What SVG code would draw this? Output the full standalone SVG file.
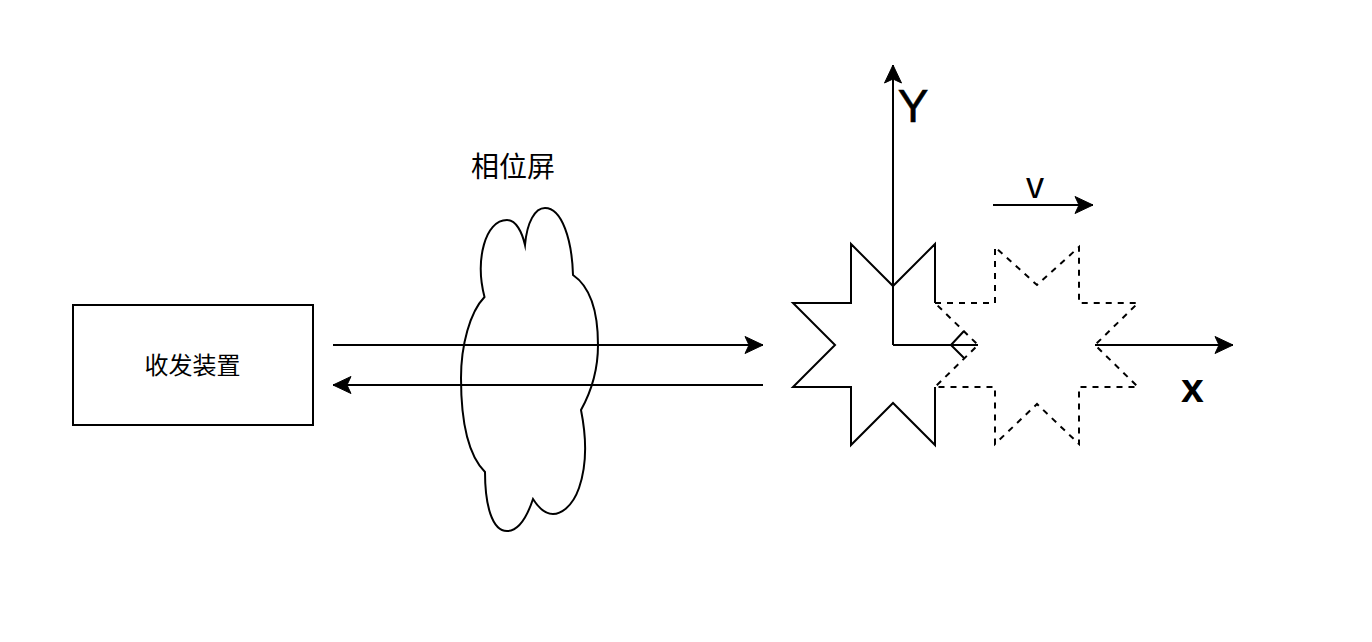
<svg xmlns="http://www.w3.org/2000/svg" width="1372" height="642" viewBox="0 0 1372 642">
<style>
.s{fill:none;stroke:#000;stroke-width:2;stroke-miterlimit:10}
.d{stroke-dasharray:6 6}
.t{font-family:"Liberation Sans","Noto Sans CJK SC",sans-serif;fill:#000;text-anchor:middle}
</style>
<defs>
<marker id="a" markerUnits="userSpaceOnUse" viewBox="0 0 20 20" refX="19" refY="10" markerWidth="20" markerHeight="20" orient="auto"><path d="M1 1.5 L19 10 L1 18.5 L5 10 Z" fill="#000" stroke="#000"/></marker>
</defs>
<rect width="1372" height="642" fill="#fff"/>
<g id="device"><rect class="s" x="73" y="305" width="240" height="120"/><text class="t" x="192.500" y="374" font-size="24">收发装置</text></g>
<g id="phase-screen"><path class="s" d="M484.500 297 C475 260 485 220 507 220 C516 220 522 232 525 245 C527 222 535 208 545 208 C562 208 572 240 573 275 C592 288 598 315 598 345 C598 370 591 392 581 410 C587 440 587 465 579 488 C572 508 560 514 553 514 C544 514 538 507 533 499 C527 517 518 531 507 531 C492 531 485 505 485 472 C468 455 461 420 461 378 C461 345 470 312 484.500 297 Z"/><text class="t" x="513" y="177" font-size="28">相位屏</text></g>
<g id="star-solid"><path class="s" d="M935 303 V244 L893 286 L851 244 V303 H793 L835 345 L793 387 H851 V445 L893 403 L935 445 V387"/></g>
<g id="star-dashed"><path class="s d" d="M935 303 H995 V247 L1037 285 L1079 247 V303 H1138 L1095 345 L1138 387 H1079 V444 L1037 404 L995 444 V387 H935 L978 345 Z"/></g>
<g id="connectors">
<path class="s" d="M333 345 H763" marker-end="url(#a)"/>
<path class="s" d="M763 385 H333" marker-end="url(#a)"/>
<path class="s" d="M893 345 V65" marker-end="url(#a)"/>
<path class="s" d="M993 205 H1093" marker-end="url(#a)"/>
<path class="s" d="M893 345 H978 M951 345 L964 331 M951 345 L964 358"/>
<path class="s" d="M1095 345 H1233" marker-end="url(#a)"/>
</g>
<text class="t" x="913" y="122" font-size="46" stroke="#000" stroke-width="0.6">Y</text>
<text class="t" x="1035" y="198" font-size="36">v</text>
<text class="t" x="1192.500" y="402" font-size="41" font-weight="bold">x</text>
</svg>
